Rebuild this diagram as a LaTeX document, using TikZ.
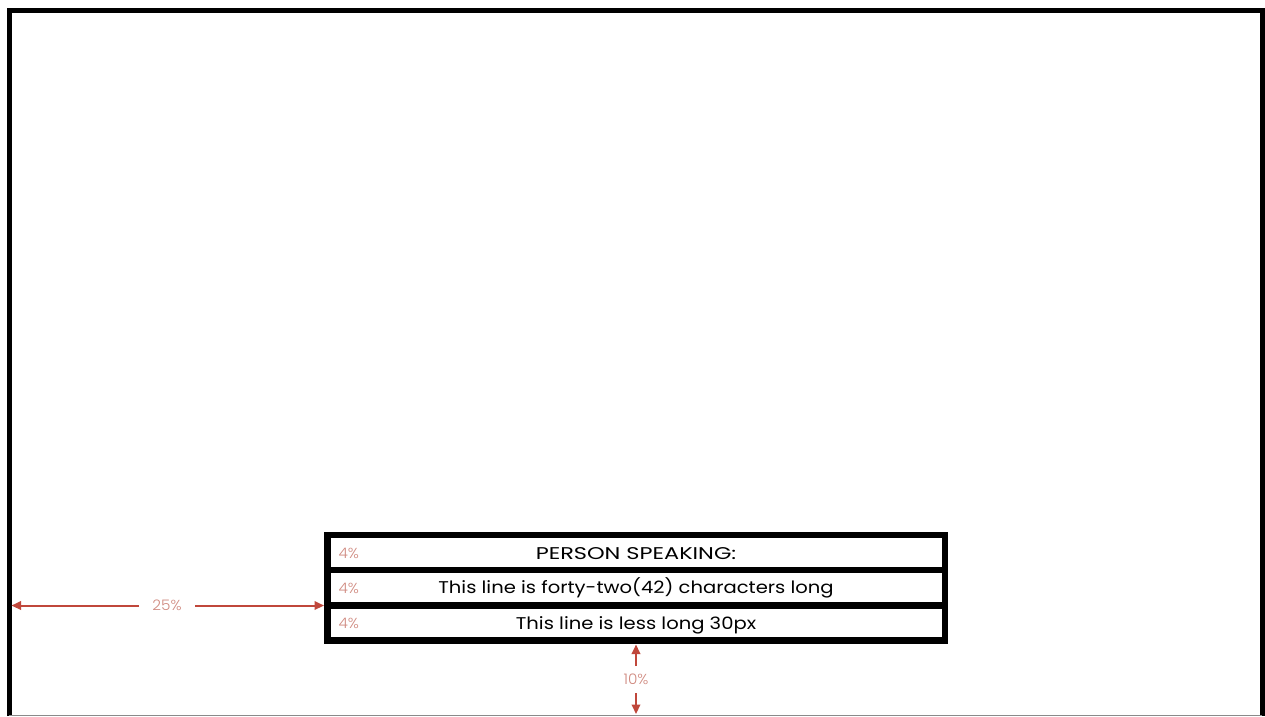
\documentclass[tikz,border=0pt]{standalone}
\usepackage{fontspec}
\setmainfont{Poppins}
\newfontfamily\widecaps{Poppins}[FakeStretch=1.32]
\newfontfamily\widetext{Poppins}[FakeStretch=1.15]
\newfontfamily\pctface{Poppins Light}[FakeStretch=1.05]
\usetikzlibrary{arrows.meta}
\definecolor{dimred}{HTML}{C0473B}
\definecolor{dimtext}{HTML}{D08A80}
\definecolor{edgegray}{HTML}{8A8A8A}
\tikzset{
  frameline/.style={line width=5pt, black},
  rowbox/.style={draw=black, line width=6.5pt},
  rowtext/.style={font=\widetext\fontsize{17}{19}\selectfont, text=black, anchor=base},
  pct/.style={font=\pctface\fontsize{14.5}{16}\selectfont, text=dimtext},
  dimline/.style={draw=dimred, line width=2pt, -{Triangle[length=9.5pt,width=8.5pt]}},
}
\begin{document}
\begin{tikzpicture}[x=1pt,y=-1pt]
\useasboundingbox (0,0) rectangle (1265,716);
\fill[white] (0,0) rectangle (1265,716);

% screen frame
\draw[frameline] (9,716) -- (9,10) -- (1262,10) -- (1262,716);
\draw[edgegray, line width=1pt] (9,715) -- (1262,715);

% caption rows
\draw[rowbox] (327.5,535) rectangle (945,570);
\draw[rowbox] (327.5,570) rectangle (945,605.5);
\draw[rowbox] (327.5,605.5) rectangle (945,640.5);

\node[rowtext, font=\widecaps\fontsize{17}{19}\selectfont] (r1) at (636,559) {PERSON SPEAKING:};
\node[rowtext] (r2) at (636,593.8) {This line is forty-two(42) characters long};
\node[rowtext] (r3) at (636,629.2) {This line is less long 30px};

\node[pct, anchor=base west] (p1) at (335,558.5) {4\%};
\node[pct, anchor=base west] (p2) at (335,593.5) {4\%};
\node[pct, anchor=base west] (p3) at (335,628.5) {4\%};

% horizontal margin
\coordinate (frameL) at (11.5,605.5);
\coordinate (boxL) at (324,605.5);
\node[pct] (m25) at (167,605.5) {25\%};
\draw[dimline] (139,605.5) -- (frameL);
\draw[dimline] (195,605.5) -- (boxL);

% bottom margin
\coordinate (boxB) at (636,644.5);
\coordinate (frameB) at (636,714);
\node[pct] (m10) at (636,679) {10\%};
\draw[dimline] (636,666) -- (boxB);
\draw[dimline] (636,693) -- (frameB);
\end{tikzpicture}
\end{document}
